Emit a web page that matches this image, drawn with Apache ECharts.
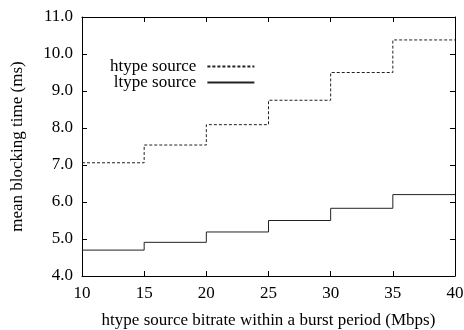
<!DOCTYPE html>
<html>
<head>
<meta charset="utf-8">
<script src="https://cdn.jsdelivr.net/npm/echarts@6/dist/echarts.min.js"></script>
<style>
  html, body { margin: 0; padding: 0; background: #fff; }
  #chart { width: 464px; height: 330px; }
</style>
</head>
<body>
<div id="chart"></div>
<script>
// data
const bitrates = [10, 15, 20, 25, 30, 35, 40];
const htypeTimes = [7.06, 7.54, 8.09, 8.75, 9.50, 10.38, 10.38];
const ltypeTimes = [4.70, 4.91, 5.19, 5.50, 5.83, 6.20, 6.20];

const font = 'Liberation Serif';
const myChart = echarts.init(document.getElementById('chart'));

const tickStyle = { show: true, inside: true, length: 5, lineStyle: { color: '#000' } };
const lineAxis = { show: true, onZero: false, lineStyle: { color: '#000', width: 1 } };

const options = {
  animation: false,
  textStyle: { fontFamily: font, color: '#000' },
  grid: { left: 82, right: 9, top: 17, bottom: 54, outerBoundsMode: 'none' },
  legend: {
    orient: 'vertical',
    align: 'right',
    left: 105,
    top: 53,
    itemGap: -1,
    itemWidth: 47,
    itemHeight: 12,
    itemStyle: { opacity: 0 },
    textStyle: { fontFamily: font, fontSize: 17, color: '#000', lineHeight: 16, padding: [0, 6, 0, 0] },
    data: ['htype source', 'ltype source']
  },
  xAxis: [
    {
      type: 'value', min: 10, max: 40, interval: 5,
      name: 'htype source bitrate within a burst period (Mbps)',
      nameLocation: 'middle', nameGap: 36,
      nameTextStyle: { fontFamily: font, fontSize: 17, color: '#000' },
      axisLine: lineAxis, axisTick: tickStyle,
      axisLabel: { fontFamily: font, fontSize: 17, color: '#000', margin: 9 },
      splitLine: { show: false }
    },
    {
      type: 'value', min: 10, max: 40, interval: 5, position: 'top',
      axisLine: lineAxis, axisTick: tickStyle,
      axisLabel: { show: false }, splitLine: { show: false }
    }
  ],
  yAxis: [
    {
      type: 'value', min: 4, max: 11, interval: 1,
      name: 'mean blocking time (ms)',
      nameLocation: 'middle', nameGap: 56,
      nameTextStyle: { fontFamily: font, fontSize: 17, color: '#000' },
      axisLine: lineAxis, axisTick: tickStyle,
      axisLabel: { fontFamily: font, fontSize: 17, color: '#000', margin: 9,
        formatter: v => v.toFixed(1) },
      splitLine: { show: false }
    },
    {
      type: 'value', min: 4, max: 11, interval: 1, position: 'right',
      axisLine: lineAxis, axisTick: tickStyle,
      axisLabel: { show: false }, splitLine: { show: false }
    }
  ],
  series: [
    {
      name: 'htype source',
      type: 'line',
      step: 'end',
      symbol: 'none',
      data: bitrates.map((x, i) => [x, htypeTimes[i]]),
      lineStyle: { color: '#222', width: 1, type: [3, 2] },
      itemStyle: { color: '#222' }
    },
    {
      name: 'ltype source',
      type: 'line',
      step: 'end',
      symbol: 'none',
      data: bitrates.map((x, i) => [x, ltypeTimes[i]]),
      lineStyle: { color: '#222', width: 1 },
      itemStyle: { color: '#222' }
    }
  ]
};

myChart.setOption(options);
</script>
</body>
</html>
